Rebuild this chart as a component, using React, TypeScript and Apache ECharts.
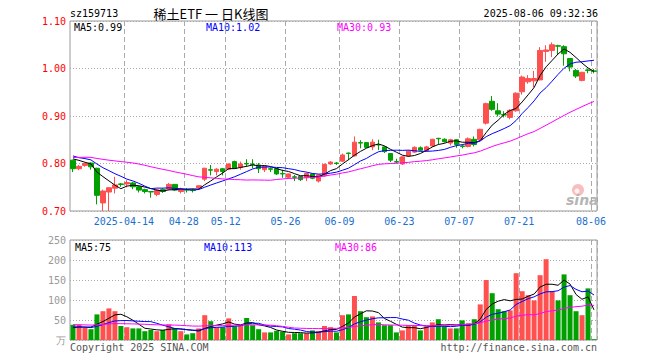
import React, { useEffect, useRef } from 'react';
import * as echarts from 'echarts';

const dates = [
  '03-31',
  '04-01', '04-02', '04-03', '04-07', '04-08', '04-09', '04-10', '04-11', '04-14', '04-15', '04-16', '04-17', '04-18',
  '04-21', '04-22', '04-23', '04-24', '04-25', '04-28', '04-29', '04-30',
  '05-06', '05-07', '05-08', '05-09', '05-12', '05-13', '05-14', '05-15', '05-16', '05-19', '05-20', '05-21', '05-22', '05-23',
  '05-26', '05-27', '05-28', '05-29', '05-30',
  '06-03', '06-04', '06-05', '06-06', '06-09', '06-10', '06-11', '06-12', '06-13', '06-16', '06-17', '06-18', '06-19', '06-20',
  '06-23', '06-24', '06-25', '06-26', '06-27', '06-30',
  '07-01', '07-02', '07-03', '07-04', '07-07', '07-08', '07-09', '07-10', '07-11', '07-14', '07-15', '07-16', '07-17', '07-18',
  '07-21', '07-22', '07-23', '07-24', '07-25', '07-28', '07-29', '07-30', '07-31',
  '08-01', '08-04', '08-05', '08-06',
];

const opens = [
  0.807, 0.789, 0.796, 0.801, 0.790, 0.717, 0.740, 0.748, 0.757, 0.757,
  0.759, 0.751, 0.745, 0.741, 0.735, 0.745, 0.746, 0.756, 0.741, 0.745,
  0.744, 0.749, 0.767, 0.787, 0.783, 0.789, 0.788, 0.804, 0.792, 0.800,
  0.799, 0.797, 0.787, 0.789, 0.789, 0.779, 0.771, 0.772, 0.773, 0.771,
  0.778, 0.763, 0.774, 0.799, 0.801, 0.805, 0.822, 0.816, 0.844, 0.844,
  0.835, 0.840, 0.835, 0.821, 0.804, 0.799, 0.816, 0.824, 0.833, 0.827,
  0.837, 0.853, 0.851, 0.843, 0.850, 0.837, 0.836, 0.851, 0.850, 0.885,
  0.931, 0.911, 0.903, 0.897, 0.911, 0.951, 0.972, 0.974, 0.976, 1.036,
  1.038, 1.048, 1.046, 1.021, 0.996, 0.975, 0.997, 0.995,
];
const closes = [
  0.789, 0.794, 0.800, 0.793, 0.733, 0.742, 0.749, 0.755, 0.756, 0.760,
  0.751, 0.744, 0.741, 0.740, 0.744, 0.741, 0.756, 0.744, 0.746, 0.744,
  0.743, 0.753, 0.790, 0.786, 0.788, 0.783, 0.799, 0.790, 0.799, 0.799,
  0.798, 0.789, 0.794, 0.788, 0.778, 0.778, 0.778, 0.771, 0.766, 0.779,
  0.769, 0.776, 0.798, 0.803, 0.800, 0.818, 0.821, 0.845, 0.843, 0.834,
  0.845, 0.839, 0.825, 0.807, 0.803, 0.814, 0.826, 0.834, 0.828, 0.835,
  0.851, 0.852, 0.846, 0.850, 0.840, 0.836, 0.852, 0.840, 0.872, 0.926,
  0.914, 0.904, 0.902, 0.912, 0.948, 0.982, 0.979, 0.979, 1.038, 1.039,
  1.050, 1.047, 1.031, 1.003, 0.984, 0.992, 0.996, 0.994,
];
const highs = [
  0.808, 0.797, 0.801, 0.802, 0.791, 0.745, 0.750, 0.772, 0.759, 0.765,
  0.761, 0.753, 0.747, 0.742, 0.746, 0.748, 0.759, 0.757, 0.749, 0.748,
  0.747, 0.754, 0.791, 0.797, 0.790, 0.790, 0.800, 0.806, 0.804, 0.809,
  0.809, 0.801, 0.795, 0.792, 0.790, 0.787, 0.779, 0.776, 0.774, 0.781,
  0.779, 0.777, 0.800, 0.805, 0.803, 0.821, 0.823, 0.857, 0.849, 0.845,
  0.851, 0.850, 0.836, 0.822, 0.810, 0.815, 0.828, 0.836, 0.836, 0.837,
  0.852, 0.854, 0.853, 0.852, 0.851, 0.840, 0.855, 0.857, 0.873, 0.928,
  0.942, 0.927, 0.910, 0.914, 0.950, 0.985, 0.986, 0.995, 1.045, 1.049,
  1.055, 1.050, 1.049, 1.022, 0.999, 0.993, 1.000, 0.999,
];
const lows = [
  0.782, 0.786, 0.793, 0.787, 0.714, 0.700, 0.700, 0.737, 0.751, 0.750,
  0.746, 0.739, 0.737, 0.728, 0.731, 0.738, 0.744, 0.742, 0.737, 0.739,
  0.739, 0.745, 0.763, 0.775, 0.775, 0.775, 0.786, 0.790, 0.787, 0.793,
  0.790, 0.780, 0.782, 0.782, 0.776, 0.770, 0.768, 0.763, 0.763, 0.763,
  0.767, 0.760, 0.772, 0.797, 0.797, 0.803, 0.807, 0.815, 0.832, 0.833,
  0.828, 0.828, 0.822, 0.803, 0.800, 0.797, 0.814, 0.822, 0.826, 0.825,
  0.835, 0.840, 0.844, 0.838, 0.833, 0.832, 0.834, 0.836, 0.848, 0.882,
  0.911, 0.899, 0.897, 0.893, 0.909, 0.945, 0.968, 0.960, 0.975, 1.014,
  1.024, 1.030, 1.006, 0.994, 0.980, 0.973, 0.990, 0.990,
];
const volumes = [
  38, 38, 30, 27, 64, 72, 79, 72, 35, 32,
  29, 29, 22, 25, 22, 25, 39, 30, 22, 14,
  17, 29, 62, 47, 31, 32, 54, 34, 38, 55,
  37, 27, 19, 19, 23, 21, 14, 17, 17, 17,
  24, 22, 35, 32, 19, 62, 64, 110, 72, 57,
  59, 44, 37, 37, 19, 24, 37, 37, 24, 34,
  44, 52, 34, 29, 29, 49, 42, 52, 89, 150,
  117, 77, 72, 74, 167, 122, 112, 99, 162, 202,
  122, 99, 164, 112, 72, 62, 129, 2,
];
// estimated sessions before the visible window (only used to warm up the moving averages)
const priorCloses = [
  0.79, 0.79, 0.80, 0.80, 0.80, 0.80, 0.80, 0.80, 0.80, 0.80,
  0.81, 0.82, 0.83, 0.83, 0.82, 0.83, 0.83, 0.82, 0.82, 0.83,
  0.83, 0.82, 0.82, 0.82, 0.82, 0.81, 0.82, 0.81, 0.82,
];
const priorVolumes = [
  45, 42, 40, 48, 44, 38, 41, 46, 40, 39,
  43, 37, 45, 40, 36, 42, 39, 41, 38, 44,
  36, 38, 35, 32, 30, 28, 31, 27, 29,
];
const labelIdx = [9, 19, 26, 36, 45, 55, 65, 75, 87];
const priceTicks = [0.7, 0.8, 0.9, 1.0, 1.1];
const volTicks = [0, 50, 100, 150, 200, 250];

const RED = '#ff5050';
const GREEN = '#00a000';
const MONO = '"DejaVu Sans Mono", monospace';

function movingAvg(prior: number[], vals: number[], n: number, digits: number) {
  const all = prior.concat(vals);
  const out: number[] = [];
  for (let i = prior.length; i < all.length; i++) {
    let s = 0;
    for (let k = i - n + 1; k <= i; k++) s += all[k];
    out.push(+(s / n).toFixed(digits));
  }
  return out;
}

export default function App() {
  const ref = useRef<HTMLDivElement>(null);
  useEffect(() => {
    document.body.style.margin = '0';
    const chart = echarts.init(ref.current!, null, { renderer: 'svg' });
    const ma5 = movingAvg(priorCloses, closes, 5, 4);
    const ma10 = movingAvg(priorCloses, closes, 10, 4);
    const ma30 = movingAvg(priorCloses, closes, 30, 4);
    const vma5 = movingAvg(priorVolumes, volumes, 5, 2);
    const vma10 = movingAvg(priorVolumes, volumes, 10, 2);
    const vma30 = movingAvg(priorVolumes, volumes, 30, 2);
    const last = dates.length - 1;
    const kData = dates.map((_, i) => [opens[i], closes[i], lows[i], highs[i]]);
    const volData = volumes.map((v, i) => ({
      value: v,
      itemStyle: { color: closes[i] >= opens[i] ? RED : GREEN },
    }));
    const showIdx = (i: number) => labelIdx.includes(i);
    const splitX = { show: true, interval: showIdx, lineStyle: { color: '#aaaaaa', type: [5, 3], width: 1 } };
    const txt = (text: string, x: number, y: number, fill: string, extra: any = {}) => ({
      type: 'text', x, y, silent: true,
      style: { text, fill, fontSize: 10, fontFamily: MONO, align: 'left', verticalAlign: 'middle', ...extra },
    });
    const lineS = (name: string, data: number[], color: string, xi: number, yi: number) => ({
      name, type: 'line', data, xAxisIndex: xi, yAxisIndex: yi, symbol: 'none', silent: true,
      lineStyle: { color, width: 1 }, z: 3,
    });
    chart.setOption({
      animation: false,
      grid: [
        { left: 70, top: 21, width: 527, height: 190, show: true, borderColor: '#999', borderWidth: 1 },
        { left: 70, top: 240, width: 527, height: 100, show: true, borderColor: '#999', borderWidth: 1 },
      ],
      xAxis: [
        {
          type: 'category', gridIndex: 0, data: dates, boundaryGap: true,
          axisLine: { show: false }, axisTick: { show: false },
          axisLabel: {
            interval: showIdx, color: '#1a6fd0', fontSize: 10, fontFamily: MONO, margin: 5,
            padding: [0, 6, 0, 0],
            formatter: (v: string, i: number) => (i === labelIdx[0] ? '2025-' + v : v),
          },
          splitLine: splitX,
        },
        {
          type: 'category', gridIndex: 1, data: dates, boundaryGap: true,
          axisLine: { show: false }, axisTick: { show: false }, axisLabel: { show: false },
          splitLine: splitX,
        },
      ],
      yAxis: [
        {
          type: 'value', gridIndex: 0, min: priceTicks[0], max: priceTicks[priceTicks.length - 1], interval: 0.1,
          axisLine: { show: false }, axisTick: { show: false },
          axisLabel: { color: '#ff0000', fontSize: 10, fontFamily: MONO, margin: 4, formatter: (v: number) => v.toFixed(2) },
          splitLine: { show: true, lineStyle: { color: '#aaaaaa', type: [1, 2], width: 1 } },
        },
        {
          type: 'value', gridIndex: 1, min: volTicks[0], max: volTicks[volTicks.length - 1], interval: 50,
          axisLine: { show: false }, axisTick: { show: false },
          axisLabel: { color: '#999999', fontSize: 10, fontFamily: MONO, margin: 4, formatter: (v: number) => (v === 0 ? '万' : String(v)) },
          splitLine: { show: true, lineStyle: { color: '#aaaaaa', type: [1, 2], width: 1 } },
        },
      ],
      series: [
        {
          type: 'candlestick', data: kData, xAxisIndex: 0, yAxisIndex: 0, barWidth: 5, silent: true,
          itemStyle: { color: RED, color0: GREEN, borderColor: RED, borderColor0: GREEN, borderWidth: 1 },
        },
        lineS('MA5', ma5, '#000000', 0, 0),
        lineS('MA10', ma10, '#0000ff', 0, 0),
        lineS('MA30', ma30, '#ff00ff', 0, 0),
        { type: 'bar', data: volData, xAxisIndex: 1, yAxisIndex: 1, barWidth: 5, silent: true },
        lineS('VMA5', vma5, '#000000', 1, 1),
        lineS('VMA10', vma10, '#0000ff', 1, 1),
        lineS('VMA30', vma30, '#ff00ff', 1, 1),
      ],
      graphic: [
        txt('sz159713', 70, 13, '#000'),
        txt('稀土ETF 一 日K线图', 211, 13, '#000', { align: 'center', fontSize: 13, fontFamily: '"Noto Sans CJK SC"' }),
        txt('2025-08-06 09:32:36', 598, 13, '#000', { align: 'right' }),
        txt('MA5:' + ma5[last].toFixed(2), 74, 27, '#000'),
        txt('MA10:' + ma10[last].toFixed(2), 206, 27, '#0000ff'),
        txt('MA30:' + ma30[last].toFixed(2), 337, 27, '#ff00ff'),
        txt('MA5:' + Math.round(vma5[last]), 75, 247, '#000'),
        txt('MA10:' + Math.round(vma10[last]), 204, 247, '#0000ff'),
        txt('MA30:' + Math.round(vma30[last]), 335, 247, '#ff00ff'),
        txt('Copyright 2025 SINA.COM', 70, 347, '#555'),
        txt('http://finance.sina.com.cn', 597, 347, '#555', { align: 'right' }),
        {
          type: 'group', silent: true, z: 1,
          children: [
            { type: 'circle', shape: { cx: 578, cy: 190, r: 6 }, style: { fill: 'rgba(240,110,110,0.45)' } },
            { type: 'circle', shape: { cx: 577, cy: 191, r: 2.5 }, style: { fill: 'rgba(255,255,255,0.8)' } },
            {
              type: 'text', x: 566, y: 200,
              style: { text: 'sina', fill: '#b5b5b5', fontSize: 14, fontWeight: 'bold', fontStyle: 'italic', fontFamily: 'DejaVu Sans', verticalAlign: 'middle' },
            },
          ],
        },
      ],
    });
    return () => chart.dispose();
  }, []);
  return <div ref={ref} style={{ width: 660, height: 360 }} />;
}
